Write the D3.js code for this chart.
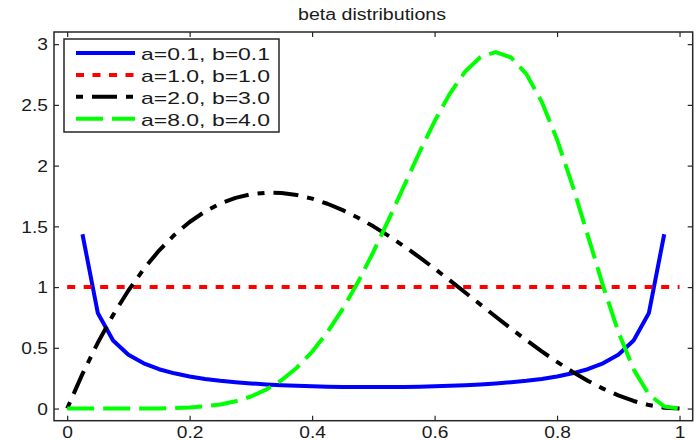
<!DOCTYPE html>
<html>
<head>
<meta charset="utf-8">
<script src="https://cdn.jsdelivr.net/npm/d3@7"></script>
<style>
  body { margin: 0; background: #fff; }
  text { font-family: "Liberation Sans", Arial, sans-serif; fill: #1a1a1a; }
</style>
</head>
<body>
<script>
// beta pdfs, values at steps of 0.025

var xs = [0, 0.025, 0.05, 0.075, 0.1, 0.125, 0.15, 0.175, 0.2, 0.225, 0.25,
    0.275, 0.3, 0.325, 0.35, 0.375, 0.4, 0.425, 0.45, 0.475, 0.5,
    0.525, 0.55, 0.575, 0.6, 0.625, 0.65, 0.675, 0.7, 0.725, 0.75,
    0.775, 0.8, 0.825, 0.85, 0.875, 0.9, 0.925, 0.95, 0.975, 1];

var beta01 = [null, 1.435, 0.787, 0.560, 0.443, 0.372, 0.324, 0.290, 0.264, 0.244, 0.229,
    0.217, 0.207, 0.199, 0.192, 0.187, 0.183, 0.180, 0.178, 0.177, 0.177,
    0.177, 0.178, 0.180, 0.183, 0.187, 0.192, 0.199, 0.207, 0.217, 0.229,
    0.244, 0.264, 0.290, 0.324, 0.372, 0.443, 0.560, 0.787, 1.435, null];

var beta11 = [1, 1, 1, 1, 1, 1, 1, 1, 1, 1, 1,
    1, 1, 1, 1, 1, 1, 1, 1, 1, 1,
    1, 1, 1, 1, 1, 1, 1, 1, 1, 1,
    1, 1, 1, 1, 1, 1, 1, 1, 1, 1];

var beta23 = [0, 0.2852, 0.5415, 0.7701, 0.972, 1.1484, 1.3005, 1.4293, 1.536, 1.6217, 1.6875,
    1.7346, 1.764, 1.7769, 1.7745, 1.7578, 1.728, 1.6862, 1.6335, 1.5711, 1.5,
    1.4214, 1.3365, 1.2463, 1.152, 1.0547, 0.9555, 0.8556, 0.756, 0.6579, 0.5625,
    0.4708, 0.384, 0.3032, 0.2295, 0.1641, 0.108, 0.0624, 0.0285, 0.0073, 0];

var beta84 = [0, 0, 0, 0, 0.0001, 0.0004, 0.0014, 0.0037, 0.0087, 0.0179, 0.0340,
    0.0598, 0.0990, 0.1555, 0.2332, 0.3361, 0.4671, 0.6282, 0.8206, 1.0415, 1.2891,
    1.5551, 1.8312, 2.1060, 2.3649, 2.5932, 2.7744, 2.8938, 2.9351, 2.8900, 2.7530,
    2.5250, 2.2146, 1.8403, 1.4282, 1.0124, 0.6314, 0.3227, 0.1152, 0.0173, 0];

var labels = ['a=0.1, b=0.1', 'a=1.0, b=1.0', 'a=2.0, b=3.0', 'a=8.0, b=4.0'];
var xTicks = [0, 0.2, 0.4, 0.6, 0.8, 1];
var yTicks = [0, 0.5, 1, 1.5, 2, 2.5, 3];

var series = [
    {values: beta01, color: '#0000ff', dash: null},
    {values: beta11, color: '#ff0000', dash: '8,8.5'},
    {values: beta23, color: '#000000', dash: '7,9,25,9'},
    {values: beta84, color: '#00ff00', dash: '27,9'}
];

var width = 698, height = 441;
var box = {left: 54, right: 692.7, top: 32, bottom: 420.7};

var x = d3.scaleLinear()
    .domain([-0.0215, 1.0215])
    .range([box.left, box.right]);

var y = d3.scaleLinear()
    .domain([-0.1, 3.1])
    .range([box.bottom, box.top]);

var svg = d3.select('body')
    .append('svg')
    .attr('width', width)
    .attr('height', height);

svg.append('rect')
    .attr('width', width)
    .attr('height', height)
    .attr('fill', '#fff');

// title
svg.append('text')
    .attr('x', 298)
    .attr('y', 20)
    .attr('textLength', 148)
    .attr('lengthAdjust', 'spacingAndGlyphs')
    .style('font-size', '16px')
    .text('beta distributions');

// axes, matlab style: ticks pointing in, on all four sides
var axisColor = '#262626';

function styleAxis(g) {
    g.select('.domain').remove();
    g.selectAll('line').attr('stroke', axisColor).attr('stroke-width', 1.2);
}

svg.append('g')
    .attr('transform', 'translate(0,' + box.bottom + ')')
    .call(d3.axisBottom(x).tickValues(xTicks).tickSize(-5).tickFormat(d3.format('')))
    .call(styleAxis)
    .call(function(g) {
        g.selectAll('text')
            .attr('y', 17)
            .attr('dy', 0)
            .attr('transform', 'scale(1.2,1)')
            .attr('fill', '#1a1a1a')
            .style('font-size', '16px')
            .style('font-family', '"Liberation Sans", Arial, sans-serif');
    });

svg.append('g')
    .attr('transform', 'translate(0,' + box.top + ')')
    .call(d3.axisTop(x).tickValues(xTicks).tickSize(-5).tickFormat(''))
    .call(styleAxis);

svg.append('g')
    .attr('transform', 'translate(' + box.left + ',0)')
    .call(d3.axisLeft(y).tickValues(yTicks).tickSize(-5).tickFormat(d3.format('')))
    .call(styleAxis)
    .call(function(g) {
        g.selectAll('text')
            .attr('x', -6 / 1.2)
            .attr('dy', '0.36em')
            .attr('transform', 'scale(1.2,1)')
            .attr('fill', '#1a1a1a')
            .style('font-size', '16px')
            .style('font-family', '"Liberation Sans", Arial, sans-serif');
    });

svg.append('g')
    .attr('transform', 'translate(' + box.right + ',0)')
    .call(d3.axisRight(y).tickValues(yTicks).tickSize(-5).tickFormat(''))
    .call(styleAxis);

svg.append('rect')
    .attr('x', box.left)
    .attr('y', box.top)
    .attr('width', box.right - box.left)
    .attr('height', box.bottom - box.top)
    .attr('fill', 'none')
    .attr('stroke', axisColor)
    .attr('stroke-width', 1.5);

// curves
var line = d3.line()
    .defined(function(d) { return d[1] != null; })
    .x(function(d) { return x(d[0]); })
    .y(function(d) { return y(d[1]); });

svg.append('g')
    .selectAll('path')
    .data(series)
    .enter().append('path')
    .attr('d', function(s) {
        return line(xs.map(function(v, i) { return [v, s.values[i]]; }));
    })
    .attr('fill', 'none')
    .attr('stroke', function(s) { return s.color; })
    .attr('stroke-width', 4)
    .attr('stroke-linejoin', 'round')
    .attr('stroke-dasharray', function(s) { return s.dash; });

// legend
var legend = svg.append('g');

legend.append('rect')
    .attr('x', 64)
    .attr('y', 39)
    .attr('width', 215)
    .attr('height', 93)
    .attr('fill', '#fff')
    .attr('stroke', axisColor)
    .attr('stroke-width', 1.5);

var rows = legend.selectAll('.row')
    .data(series)
    .enter().append('g')
    .attr('class', 'row')
    .attr('transform', function(s, i) { return 'translate(0,' + (60 + i * 21.9) + ')'; });

rows.append('line')
    .attr('x1', 76)
    .attr('x2', 135)
    .attr('y1', -7)
    .attr('y2', -7)
    .attr('stroke', function(s) { return s.color; })
    .attr('stroke-width', 4)
    .attr('stroke-dasharray', function(s) { return s.dash; });

rows.append('text')
    .attr('x', 141)
    .attr('y', 0)
    .attr('textLength', 129)
    .attr('lengthAdjust', 'spacingAndGlyphs')
    .style('font-size', '17px')
    .text(function(s, i) { return labels[i]; });
</script>
</body>
</html>
